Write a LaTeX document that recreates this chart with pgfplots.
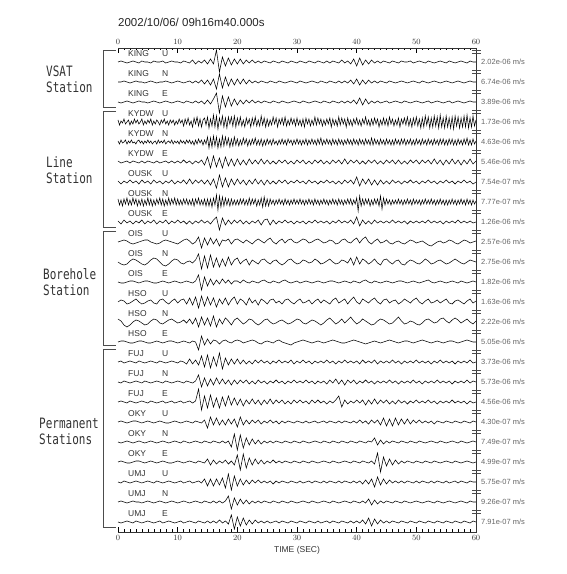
\documentclass[border=0pt]{standalone}
\usepackage{fontspec}
\setmainfont{Liberation Sans}
\newfontfamily\grp{DejaVu Sans Mono}
\usepackage{graphicx}
\usepackage{pgfplots}
\pgfplotsset{compat=1.18}
\definecolor{lab}{HTML}{333333}
\definecolor{scl}{HTML}{666666}
\newcommand\tr[3][0.5]{\addplot[black,line width=0.55pt,mark=none] table[header=false,row sep=\\,x expr=\coordindex*#1,y expr=\thisrowno{0}/20+#2]{#3};}
\begin{document}
\begin{tikzpicture}[x=1pt,y=1pt]
\useasboundingbox (0,0) rectangle (566,574);
\begin{axis}[at={(118pt,42pt)}, anchor=south west, scale only axis, width=358pt, height=484pt,
  xmin=0, xmax=60, ymin=0.5, ymax=24.7, xtick={0,10,...,60}, minor x tick num=9,
  xtick pos=both, xticklabel pos=left, tick align=inside, major tick length=5pt, minor tick length=2.5pt,
  ytick=\empty, axis line style={draw=none}, tick style={black, line width=0.4pt},
  ticklabel style={font=\fontsize{8.5}{9}\selectfont, text=lab}, clip=false]
\tr{24}{
0\\1\\0\\-1\\0\\1\\0\\-1\\1\\0\\
0\\-1\\1\\0\\0\\1\\-1\\0\\1\\0\\
0\\-1\\1\\0\\-1\\2\\-2\\1\\-1\\2\\
-2\\3\\-2\\12\\-10\\5\\-4\\4\\-3\\3\\
-2\\3\\-2\\2\\-1\\2\\-1\\1\\-1\\1\\
0\\-1\\1\\0\\-1\\1\\0\\-1\\1\\0\\
-1\\1\\0\\-1\\1\\0\\-1\\1\\0\\-1\\
1\\-1\\1\\0\\-1\\2\\-1\\1\\-2\\3\\
-4\\4\\-3\\2\\-2\\2\\-1\\1\\-1\\1\\
0\\-1\\1\\0\\-1\\1\\0\\0\\1\\-1\\
0\\1\\0\\-1\\1\\0\\-1\\0\\1\\0\\
-1\\1\\0\\-1\\0\\1\\0\\-1\\1\\0\\0\\}
\tr{23}{
0\\0\\1\\0\\-1\\0\\1\\0\\0\\-1\\
0\\1\\0\\-1\\0\\0\\1\\0\\-1\\0\\
1\\0\\-1\\0\\1\\-1\\1\\-1\\2\\-2\\
2\\-3\\3\\-7\\8\\-6\\5\\-4\\3\\-3\\
3\\-2\\3\\-2\\2\\-1\\1\\-1\\1\\0\\
-1\\1\\0\\-1\\1\\0\\-1\\0\\1\\0\\
-1\\1\\0\\-1\\0\\1\\0\\-1\\1\\0\\
-1\\1\\0\\-1\\1\\-1\\1\\-1\\2\\-2\\
3\\-3\\2\\-2\\2\\-1\\1\\-1\\1\\0\\
-1\\1\\0\\-1\\0\\1\\0\\-1\\0\\1\\
0\\-1\\1\\0\\-1\\0\\1\\0\\-1\\0\\
1\\0\\-1\\0\\1\\0\\-1\\0\\1\\0\\0\\}
\tr{22}{
0\\-1\\0\\1\\0\\-1\\0\\1\\0\\0\\
-1\\0\\1\\0\\-1\\0\\1\\0\\-1\\0\\
1\\0\\-1\\1\\0\\-1\\1\\-1\\1\\-2\\
2\\-2\\3\\9\\-11\\6\\-5\\5\\-4\\3\\
-3\\2\\-2\\2\\-1\\2\\-1\\1\\-1\\1\\
0\\-1\\1\\0\\-1\\1\\0\\-1\\0\\1\\
0\\-1\\1\\0\\-1\\0\\1\\0\\-1\\1\\
0\\-1\\1\\0\\-1\\1\\-1\\1\\-1\\2\\
-2\\4\\-3\\3\\-2\\1\\-1\\1\\-1\\0\\
1\\-1\\0\\1\\0\\-1\\1\\0\\-1\\0\\
1\\0\\-1\\0\\1\\-1\\0\\1\\0\\-1\\
0\\1\\-1\\0\\1\\0\\-1\\0\\1\\0\\0\\}
\tr[0.25]{21}{
2\\-3\\1\\-1\\3\\-2\\0\\2\\-3\\1\\-2\\3\\-1\\2\\-2\\0\\3\\-3\\1\\-2\\
2\\-1\\3\\-3\\1\\-2\\2\\0\\-3\\2\\-1\\3\\-2\\1\\-3\\2\\-1\\2\\-3\\1\\
-2\\3\\-1\\2\\-4\\3\\-2\\4\\-3\\1\\-5\\4\\-2\\5\\-4\\3\\-5\\2\\4\\-3\\
5\\-6\\3\\-4\\7\\-5\\6\\-7\\4\\-3\\6\\-5\\4\\-6\\5\\-2\\5\\-4\\6\\-5\\
4\\-3\\5\\-4\\2\\-5\\4\\-2\\3\\-5\\4\\-3\\5\\-4\\2\\-4\\6\\-3\\4\\-5\\
3\\-4\\2\\-3\\5\\-2\\4\\-5\\3\\-2\\4\\-3\\5\\-4\\2\\-3\\4\\-2\\3\\-4\\
4\\-3\\2\\-4\\3\\-5\\4\\-2\\3\\-4\\2\\-3\\5\\-3\\4\\-2\\3\\-4\\2\\-3\\
3\\-2\\4\\-5\\3\\-3\\2\\-4\\5\\-3\\4\\-2\\3\\-5\\4\\-3\\2\\-4\\3\\-2\\
4\\-3\\2\\-4\\3\\-2\\5\\-3\\2\\-4\\3\\-3\\4\\-2\\3\\-5\\2\\-3\\4\\-3\\
3\\-4\\5\\-2\\3\\-4\\2\\-3\\4\\-5\\3\\-2\\4\\-3\\5\\-4\\3\\-5\\4\\-3\\
5\\-4\\3\\-6\\4\\-5\\6\\-3\\5\\-6\\4\\-5\\6\\-4\\5\\-6\\7\\-5\\4\\-6\\
6\\-5\\4\\-6\\5\\-7\\6\\-4\\5\\-6\\4\\-5\\6\\-5\\7\\-6\\4\\-5\\6\\-4\\
2\\}
\tr[0.25]{20}{
1\\-2\\2\\-1\\0\\2\\-2\\1\\-1\\2\\-1\\0\\-2\\1\\2\\-1\\1\\-2\\1\\-1\\
2\\-1\\1\\-2\\0\\1\\-2\\2\\-1\\1\\-1\\2\\-2\\0\\1\\-1\\2\\-2\\1\\-1\\
1\\-2\\2\\-1\\1\\-2\\2\\-1\\2\\-2\\1\\-3\\2\\-2\\3\\-1\\2\\-3\\2\\-2\\
5\\-6\\4\\-5\\6\\-4\\5\\-6\\3\\-5\\6\\-4\\5\\-3\\4\\-5\\3\\-4\\5\\-3\\
3\\-4\\2\\-3\\4\\-2\\3\\-4\\2\\-3\\3\\-2\\4\\-3\\2\\-3\\3\\-4\\2\\-3\\
3\\-2\\2\\-3\\3\\-2\\1\\-3\\2\\-2\\3\\-2\\2\\-3\\3\\-1\\2\\-3\\2\\-2\\
3\\-2\\2\\-3\\2\\-2\\3\\-3\\2\\-2\\3\\-2\\2\\-3\\3\\-2\\4\\-3\\2\\-2\\
3\\-2\\2\\-3\\3\\-2\\2\\-3\\3\\-2\\2\\-3\\2\\-2\\3\\-2\\2\\-3\\3\\-2\\
2\\-3\\3\\-2\\2\\-3\\3\\-2\\2\\-3\\4\\-3\\3\\-2\\2\\-3\\3\\-2\\2\\-3\\
3\\-2\\2\\-3\\2\\-3\\3\\-2\\2\\-3\\3\\-2\\3\\-3\\2\\-2\\3\\-3\\2\\-3\\
3\\-2\\2\\-3\\3\\-2\\2\\-3\\3\\-2\\2\\-3\\3\\-2\\2\\-3\\3\\-2\\3\\-3\\
2\\-3\\3\\-2\\3\\-3\\2\\-3\\3\\-2\\2\\-3\\3\\-2\\4\\-3\\2\\-3\\3\\-2\\
1\\}
\tr{19}{
1\\-1\\0\\1\\-1\\1\\0\\-1\\1\\-1\\
1\\0\\-1\\1\\-1\\0\\1\\-1\\1\\-1\\
1\\-1\\2\\-1\\1\\-2\\1\\-1\\2\\-3\\
5\\-6\\6\\-5\\4\\-6\\5\\-4\\3\\-4\\
3\\-3\\2\\-3\\3\\-2\\2\\-2\\3\\-2\\
2\\-2\\1\\-2\\2\\-1\\2\\-2\\1\\-2\\
2\\-1\\2\\-2\\1\\-2\\2\\-1\\2\\-2\\
1\\-2\\2\\-1\\2\\-2\\3\\-2\\2\\-1\\
2\\-2\\1\\-2\\2\\-1\\2\\-2\\1\\-2\\
2\\-1\\2\\-2\\2\\-2\\1\\-2\\2\\-1\\
2\\-2\\2\\-1\\2\\-2\\3\\-2\\2\\-3\\
2\\-2\\3\\-2\\2\\-3\\2\\-2\\3\\-2\\1\\}
\tr{18}{
1\\-2\\1\\-1\\2\\-1\\1\\-2\\2\\-1\\
1\\-2\\2\\-1\\1\\-2\\1\\-1\\2\\-2\\
1\\-1\\2\\-2\\3\\-2\\2\\-1\\2\\-2\\
2\\-3\\3\\-6\\7\\-5\\4\\-5\\3\\-3\\
3\\-2\\2\\-3\\2\\-2\\3\\-2\\2\\-3\\
2\\-2\\1\\-2\\2\\-1\\2\\-2\\1\\-1\\
2\\-1\\1\\-2\\2\\-1\\1\\-2\\1\\-1\\
2\\-1\\1\\-2\\1\\-2\\2\\-1\\2\\-2\\
5\\-4\\3\\-2\\3\\-3\\2\\-3\\2\\-2\\
1\\-2\\2\\-1\\1\\-2\\1\\-1\\2\\-1\\
1\\-2\\1\\-1\\2\\-1\\1\\-2\\1\\-1\\
2\\-1\\1\\-2\\1\\-1\\2\\-1\\1\\-2\\0\\}
\tr[0.25]{17}{
3\\-3\\2\\-4\\3\\-2\\4\\-3\\2\\-3\\4\\-2\\3\\-4\\2\\-3\\3\\-4\\2\\-3\\
4\\-3\\3\\-4\\2\\-3\\3\\-2\\4\\-3\\3\\-4\\2\\-3\\4\\-3\\3\\-2\\4\\-3\\
3\\-3\\2\\-3\\3\\-2\\3\\-3\\2\\-3\\3\\-4\\3\\-2\\4\\-3\\2\\-3\\3\\-4\\
3\\-4\\3\\-5\\4\\-3\\7\\-8\\6\\-5\\5\\-4\\4\\-3\\3\\-4\\3\\-3\\2\\-3\\
2\\-3\\3\\-2\\3\\-3\\2\\-3\\4\\-3\\3\\-2\\3\\-4\\2\\-3\\4\\-5\\5\\-4\\
3\\-4\\3\\-2\\2\\-3\\2\\-2\\3\\-2\\2\\-3\\3\\-2\\2\\-3\\2\\-2\\3\\-2\\
2\\-2\\3\\-2\\2\\-3\\2\\-2\\3\\-2\\2\\-3\\3\\-2\\2\\-3\\2\\-2\\3\\-2\\
2\\-3\\2\\-2\\3\\-2\\2\\-3\\3\\-2\\2\\-3\\2\\-2\\3\\-2\\3\\-3\\2\\-2\\
4\\-9\\6\\-4\\3\\-3\\3\\-2\\3\\-4\\2\\-3\\3\\-2\\3\\-4\\6\\-7\\4\\-3\\
3\\-2\\2\\-3\\2\\-2\\2\\-2\\3\\-2\\2\\-3\\2\\-2\\3\\-2\\2\\-3\\3\\-2\\
2\\-2\\2\\-3\\2\\-2\\3\\-2\\2\\-2\\3\\-2\\2\\-3\\2\\-2\\3\\-2\\2\\-3\\
2\\-3\\2\\-2\\3\\-2\\2\\-3\\2\\-2\\3\\-2\\2\\-3\\3\\-2\\2\\-3\\2\\-2\\
1\\}
\tr{16}{
1\\-2\\2\\-1\\1\\-2\\1\\-1\\2\\-2\\
1\\-1\\2\\-2\\1\\-1\\2\\-2\\1\\-1\\
2\\-1\\1\\-2\\1\\-2\\1\\-1\\2\\-1\\
1\\-2\\2\\5\\-8\\4\\-3\\2\\-2\\2\\
-1\\2\\-2\\1\\-2\\1\\-1\\2\\-3\\2\\
3\\-3\\2\\-2\\1\\-1\\2\\-1\\1\\-2\\
1\\-1\\1\\-2\\1\\-1\\2\\-1\\1\\-1\\
1\\-2\\1\\-1\\2\\-1\\1\\-1\\2\\-2\\
5\\-4\\2\\-2\\1\\-2\\2\\-1\\1\\-1\\
1\\-1\\2\\-1\\1\\-1\\1\\-2\\1\\-1\\
1\\-1\\1\\-1\\2\\-1\\1\\-1\\1\\-2\\
1\\-1\\1\\-1\\2\\-1\\1\\-1\\1\\-1\\0\\}
\tr{15}{
0\\1\\2\\1\\-1\\-2\\-1\\0\\1\\2\\
2\\0\\-1\\-2\\-1\\1\\2\\1\\0\\-1\\
-2\\0\\2\\3\\1\\-2\\0\\5\\-6\\4\\
-3\\4\\-2\\3\\-4\\2\\1\\3\\-2\\2\\
3\\1\\-1\\2\\0\\-2\\1\\3\\1\\-1\\
2\\4\\0\\-2\\1\\3\\-1\\2\\3\\0\\
-1\\1\\3\\2\\-1\\0\\2\\3\\1\\-1\\
0\\2\\1\\-2\\-1\\2\\3\\0\\-1\\2\\
4\\-1\\3\\5\\0\\-2\\1\\3\\-1\\0\\
2\\-1\\-2\\0\\1\\-1\\-2\\0\\2\\1\\
-1\\0\\1\\-1\\-3\\-4\\-2\\0\\1\\-1\\
0\\2\\1\\-1\\-2\\0\\2\\1\\-1\\0\\1\\}
\tr{14}{
0\\-2\\-3\\-2\\1\\3\\2\\0\\-2\\-3\\
-1\\2\\4\\3\\0\\-3\\-4\\-2\\1\\3\\
2\\-1\\-2\\0\\1\\-1\\2\\8\\-7\\6\\
-6\\7\\-5\\4\\-5\\3\\-4\\5\\-3\\2\\
4\\-2\\1\\3\\-3\\2\\0\\-2\\2\\3\\
0\\-2\\1\\2\\-1\\-3\\-1\\2\\3\\0\\
-2\\-1\\2\\1\\-1\\0\\3\\1\\-2\\-1\\
1\\3\\0\\-2\\-1\\2\\1\\-1\\4\\-3\\
5\\-2\\3\\1\\-2\\0\\3\\-1\\-3\\2\\
3\\0\\-2\\1\\2\\-2\\-3\\0\\2\\1\\
-1\\-2\\0\\3\\1\\-2\\-1\\1\\2\\0\\
-2\\-1\\1\\3\\1\\-1\\-2\\0\\2\\1\\0\\}
\tr{13}{
0\\-1\\-1\\0\\1\\1\\0\\-1\\0\\1\\
1\\0\\-1\\-1\\0\\1\\0\\-1\\0\\1\\
0\\-1\\0\\1\\0\\-1\\1\\7\\-8\\5\\
-4\\3\\-3\\2\\-2\\3\\-1\\2\\-2\\1\\
1\\-1\\2\\0\\-1\\1\\0\\-1\\1\\2\\
0\\-1\\1\\0\\-1\\1\\2\\0\\-1\\0\\
1\\-1\\0\\1\\0\\-1\\0\\1\\0\\-1\\
0\\1\\1\\0\\-1\\0\\1\\0\\-1\\1\\
0\\-1\\1\\2\\0\\-1\\1\\0\\-1\\0\\
1\\0\\-1\\0\\1\\1\\0\\-1\\0\\1\\
0\\-1\\0\\1\\2\\0\\-1\\0\\1\\0\\
-1\\0\\1\\0\\-1\\1\\0\\-1\\0\\1\\0\\}
\tr{12}{
0\\2\\1\\-2\\-1\\1\\3\\0\\-2\\-1\\
1\\2\\-1\\-2\\2\\3\\0\\-2\\1\\3\\
-1\\2\\3\\-2\\4\\-3\\5\\-6\\6\\-4\\
5\\-3\\4\\-5\\3\\-2\\4\\-3\\2\\5\\
-2\\3\\1\\-3\\4\\-1\\2\\-3\\3\\1\\
-2\\2\\3\\-1\\1\\-2\\2\\3\\0\\-2\\
1\\3\\-1\\0\\2\\-2\\1\\3\\-1\\2\\
0\\-2\\2\\4\\-1\\1\\3\\-2\\2\\5\\
0\\-2\\3\\1\\-1\\2\\4\\0\\-2\\2\\
3\\-1\\1\\2\\-2\\0\\3\\1\\-1\\2\\
4\\0\\-2\\1\\3\\-1\\0\\2\\-1\\1\\
3\\-1\\-2\\1\\2\\0\\-2\\1\\3\\-1\\1\\}
\tr{11}{
3\\1\\-3\\-5\\-3\\0\\2\\1\\-1\\-3\\
-2\\1\\3\\2\\-1\\-2\\0\\2\\3\\1\\
-1\\0\\2\\-1\\3\\-2\\4\\-5\\5\\-3\\
4\\-4\\6\\-5\\3\\-2\\4\\1\\-3\\2\\
4\\1\\-2\\0\\3\\2\\-1\\-3\\-1\\2\\
3\\0\\-2\\-1\\1\\2\\0\\-2\\-1\\1\\
3\\2\\-1\\-2\\0\\2\\1\\-1\\-3\\-1\\
2\\4\\1\\-2\\0\\3\\-1\\2\\5\\1\\
-2\\0\\3\\1\\-1\\-3\\-2\\1\\3\\2\\
0\\-2\\-1\\2\\5\\1\\-2\\-1\\1\\0\\
-2\\-3\\-1\\2\\3\\1\\-1\\0\\3\\4\\
1\\-1\\2\\4\\2\\-1\\1\\3\\0\\-2\\1\\}
\tr{10}{
0\\1\\1\\0\\-1\\-1\\0\\1\\1\\0\\
-1\\-1\\0\\1\\0\\-1\\0\\1\\1\\0\\
-1\\0\\1\\0\\-1\\1\\0\\-8\\6\\-3\\
3\\-2\\2\\1\\-2\\1\\2\\0\\-1\\1\\
2\\1\\-1\\0\\1\\2\\1\\-1\\-2\\0\\
1\\0\\-1\\1\\2\\0\\-1\\-2\\-3\\-1\\
0\\1\\2\\1\\0\\-1\\0\\1\\0\\-1\\
0\\1\\2\\1\\0\\-1\\-1\\0\\1\\2\\
1\\0\\-1\\-2\\-1\\0\\1\\0\\-1\\0\\
1\\2\\1\\0\\-1\\0\\1\\1\\0\\-1\\
0\\1\\2\\1\\0\\-1\\0\\1\\0\\-1\\
0\\1\\1\\0\\-1\\0\\1\\2\\1\\0\\0\\}
\tr{9}{
0\\1\\-1\\0\\1\\0\\-1\\1\\0\\-1\\
0\\1\\0\\-1\\1\\0\\-1\\0\\1\\0\\
-1\\1\\0\\-2\\3\\-2\\2\\-3\\6\\-5\\
7\\-6\\5\\-4\\9\\-7\\4\\-3\\3\\-2\\
3\\-2\\2\\-2\\1\\-2\\2\\-1\\2\\-1\\
1\\-2\\1\\-1\\2\\-1\\1\\-1\\2\\-2\\
1\\-1\\2\\-1\\1\\-2\\1\\-1\\1\\-1\\
2\\-1\\1\\-2\\1\\-1\\2\\-1\\1\\-1\\
1\\-2\\2\\-1\\1\\-1\\2\\-2\\1\\-1\\
1\\-1\\2\\-1\\1\\-2\\1\\-1\\1\\-1\\
2\\-1\\1\\-1\\1\\-2\\1\\-1\\2\\-1\\
1\\-1\\1\\-2\\1\\-1\\1\\-1\\2\\-1\\0\\}
\tr{8}{
0\\-1\\1\\0\\-1\\0\\1\\0\\-1\\1\\
0\\-1\\0\\1\\0\\-1\\1\\0\\-1\\0\\
1\\0\\-1\\1\\0\\-1\\1\\7\\-5\\4\\
-4\\3\\-3\\4\\-2\\3\\-2\\2\\-3\\2\\
-2\\2\\-1\\2\\-2\\1\\-2\\2\\-1\\1\\
-2\\1\\-1\\2\\-1\\1\\-2\\1\\-1\\2\\
-1\\1\\-1\\2\\-1\\1\\-2\\1\\-1\\1\\
-2\\2\\-1\\3\\-2\\2\\-3\\2\\-1\\2\\
-2\\1\\-1\\2\\-1\\1\\-2\\1\\-1\\1\\
-1\\2\\-1\\1\\-2\\1\\-1\\1\\-1\\2\\
-1\\1\\-2\\1\\-1\\1\\-1\\2\\-1\\1\\
-1\\1\\-2\\1\\-1\\1\\-1\\2\\-1\\1\\0\\}
\tr{7}{
0\\1\\0\\-1\\1\\0\\-1\\0\\1\\0\\
-1\\1\\0\\-1\\0\\1\\-1\\0\\1\\-1\\
0\\1\\-1\\0\\1\\-1\\1\\13\\-8\\6\\
-6\\7\\-5\\4\\-6\\5\\-4\\6\\-3\\4\\
-3\\3\\-4\\2\\-2\\3\\-2\\2\\-3\\2\\
-2\\3\\-2\\2\\-1\\2\\-2\\1\\-2\\2\\
-1\\2\\-1\\1\\-2\\2\\-1\\2\\-1\\1\\
-2\\1\\-1\\2\\6\\-5\\2\\-2\\1\\-1\\
2\\-1\\2\\-3\\2\\-2\\3\\-2\\2\\-1\\
2\\-2\\1\\-2\\2\\-1\\1\\-2\\1\\-1\\
2\\-1\\1\\-1\\2\\-1\\1\\-2\\1\\-1\\
1\\-1\\2\\-1\\1\\-1\\1\\-2\\1\\-1\\0\\}
\tr{6}{
0\\1\\0\\-1\\0\\1\\1\\0\\-1\\0\\
1\\0\\-1\\0\\1\\0\\-1\\-1\\0\\1\\
0\\-1\\0\\1\\0\\-1\\1\\0\\-1\\2\\
-6\\5\\-3\\4\\-3\\2\\-3\\3\\-2\\3\\
-5\\5\\-3\\2\\-2\\2\\-1\\2\\-2\\1\\
-1\\2\\-1\\1\\-2\\1\\-1\\1\\0\\-1\\
1\\0\\-1\\1\\-1\\0\\1\\-1\\0\\1\\
-1\\1\\0\\-1\\1\\-1\\1\\0\\-1\\1\\
-1\\2\\-1\\1\\-2\\2\\-1\\2\\-3\\4\\
-4\\3\\-4\\4\\-3\\3\\-2\\3\\-2\\2\\
-1\\2\\-1\\1\\-1\\1\\-2\\1\\0\\-1\\
1\\0\\-1\\1\\0\\-1\\1\\0\\-1\\1\\0\\}
\tr{5}{
0\\-1\\0\\1\\0\\-1\\0\\1\\0\\-1\\
0\\1\\0\\-1\\0\\1\\0\\-1\\0\\1\\
0\\-1\\1\\0\\-1\\0\\1\\0\\-1\\1\\
0\\-1\\1\\0\\-1\\1\\-1\\1\\-5\\8\\
-8\\7\\-6\\4\\-3\\3\\-2\\2\\-2\\1\\
-1\\1\\-1\\1\\0\\-1\\1\\0\\-1\\1\\
0\\-1\\1\\0\\-1\\0\\1\\0\\-1\\1\\
0\\-1\\1\\0\\-1\\1\\0\\-1\\1\\0\\
-1\\1\\0\\-1\\1\\0\\4\\-3\\2\\-2\\
1\\-1\\1\\0\\-1\\1\\0\\-1\\1\\0\\
-1\\1\\0\\-1\\0\\1\\0\\-1\\1\\0\\
-1\\0\\1\\0\\-1\\1\\0\\-1\\0\\1\\0\\}
\tr{4}{
0\\1\\0\\-1\\-1\\0\\1\\1\\0\\-1\\
0\\1\\0\\-1\\0\\1\\0\\-1\\-1\\0\\
1\\0\\-1\\0\\1\\0\\-1\\1\\0\\-1\\
3\\-3\\2\\-2\\1\\-1\\2\\-2\\1\\-3\\
7\\-8\\8\\-6\\4\\-3\\3\\-2\\2\\-2\\
1\\-1\\2\\-1\\1\\-1\\1\\0\\-1\\1\\
0\\-1\\1\\0\\-1\\1\\0\\-1\\0\\1\\
0\\-1\\1\\0\\-1\\0\\1\\0\\-1\\1\\
0\\-1\\1\\0\\-1\\1\\-2\\9\\-10\\5\\
-4\\3\\-3\\2\\-2\\1\\-1\\1\\0\\-1\\
1\\0\\-1\\1\\0\\-1\\1\\0\\-1\\0\\
1\\0\\-1\\1\\0\\-1\\0\\1\\0\\-1\\0\\}
\tr{3}{
0\\-1\\1\\0\\-1\\0\\1\\0\\-1\\0\\
1\\0\\-1\\1\\0\\-1\\0\\1\\0\\-1\\
0\\1\\-1\\0\\1\\-1\\0\\1\\-1\\3\\
-4\\3\\-4\\3\\-3\\4\\-6\\8\\-8\\6\\
-4\\3\\-3\\2\\-2\\2\\-1\\2\\-1\\1\\
-1\\1\\-2\\1\\-1\\1\\0\\-1\\1\\0\\
-1\\1\\-1\\0\\1\\-1\\1\\0\\-1\\1\\
-1\\1\\0\\-1\\1\\-1\\1\\0\\-1\\1\\
-1\\1\\-2\\2\\-2\\3\\-5\\5\\-3\\3\\
-2\\2\\-1\\1\\-1\\1\\-1\\1\\0\\-1\\
1\\-1\\1\\0\\-1\\1\\-1\\1\\0\\-1\\
1\\-1\\0\\1\\-1\\1\\0\\-1\\1\\0\\0\\}
\tr{2}{
0\\1\\0\\-1\\0\\1\\0\\0\\-1\\0\\
1\\0\\-1\\0\\1\\0\\-1\\0\\1\\0\\
-1\\0\\1\\0\\-1\\0\\1\\0\\-1\\1\\
0\\-1\\1\\-1\\1\\-1\\1\\6\\-7\\4\\
-3\\3\\-2\\2\\-2\\1\\-1\\1\\-1\\1\\
0\\-1\\1\\0\\-1\\1\\0\\-1\\1\\0\\
-1\\0\\1\\0\\-1\\1\\0\\-1\\0\\1\\
0\\-1\\1\\0\\-1\\0\\1\\0\\-1\\1\\
0\\-1\\1\\-1\\3\\-3\\2\\-2\\1\\-1\\
1\\0\\-1\\1\\0\\-1\\1\\0\\-1\\0\\
1\\0\\-1\\0\\1\\0\\-1\\1\\0\\-1\\
0\\1\\0\\-1\\0\\1\\0\\-1\\1\\0\\0\\}
\tr{1}{
0\\-1\\0\\1\\0\\-1\\1\\0\\-1\\0\\
1\\0\\-1\\0\\1\\-1\\0\\1\\0\\-1\\
0\\1\\-1\\0\\1\\0\\-1\\1\\0\\-1\\
1\\-1\\1\\-1\\2\\-1\\1\\-2\\7\\-7\\
5\\-4\\4\\-3\\2\\-2\\2\\-1\\1\\-1\\
1\\-1\\0\\1\\-1\\1\\0\\-1\\1\\0\\
-1\\1\\0\\-1\\1\\0\\-1\\1\\-1\\0\\
1\\-1\\1\\0\\-1\\1\\0\\-1\\1\\-1\\
1\\-1\\2\\-2\\4\\-4\\3\\-2\\2\\-1\\
1\\-1\\1\\0\\-1\\1\\0\\-1\\1\\0\\
-1\\1\\0\\-1\\1\\0\\-1\\1\\0\\-1\\
1\\0\\-1\\1\\0\\-1\\1\\0\\-1\\1\\0\\}
\end{axis}
\begin{axis}[at={(118pt,42pt)}, anchor=south west, scale only axis, width=358pt, height=484pt,
  xmin=0, xmax=60, ymin=0, ymax=1, xtick={0,10,...,60}, xtick pos=right, xticklabel pos=right,
  major tick length=0pt, ytick=\empty, axis line style={draw=none},
  ticklabel style={font=\fontsize{8.5}{9}\selectfont, text=lab}]
\end{axis}
% frame: top, right, bottom
\draw[line width=0.5pt, black!80] (118,526) -- (476,526) -- (476,42) -- (118,42);
% scale marks on the right
\foreach \j in {0,...,23} {
  \draw[line width=0.4pt, black!70] (472,{522-20*\j+1.5}) -- (481,{522-20*\j+1.5});
  \draw[line width=0.4pt, black!70] (472,{522-20*\j-1.5}) -- (481,{522-20*\j-1.5});
}
% group brackets
\begin{scope}[line width=0.5pt, black!70]
\draw (116,524) -- (103,524) -- (103,467) -- (116,467);
\draw (116,463) -- (103,463) -- (103,347) -- (116,347);
\draw (116,343) -- (103,343) -- (103,229) -- (116,229);
\draw (116,225) -- (103,225) -- (103,47) -- (116,47);
\end{scope}
% group labels
\begin{scope}[every node/.style={anchor=west, inner sep=0pt, font=\grp\fontsize{11}{12}\selectfont, text=lab}]
\node at (46,503) {\scalebox{1}[1.3]{VSAT}};
\node at (46,487) {\scalebox{1}[1.3]{Station}};
\node at (46,412) {\scalebox{1}[1.3]{Line}};
\node at (46,396) {\scalebox{1}[1.3]{Station}};
\node at (43,300) {\scalebox{1}[1.3]{Borehole}};
\node at (43,284) {\scalebox{1}[1.3]{Station}};
\node at (39,151) {\scalebox{1}[1.3]{Permanent}};
\node at (39,135) {\scalebox{1}[1.3]{Stations}};
\end{scope}
% trace labels
\begin{scope}[every node/.style={anchor=west, inner sep=0pt, font=\fontsize{8.5}{9}\selectfont, text=lab}]
\foreach \n/\c [count=\k from 0] in {KING/U,KING/N,KING/E,KYDW/U,KYDW/N,KYDW/E,OUSK/U,OUSK/N,OUSK/E,OIS/U,OIS/N,OIS/E,HSO/U,HSO/N,HSO/E,FUJ/U,FUJ/N,FUJ/E,OKY/U,OKY/N,OKY/E,UMJ/U,UMJ/N,UMJ/E} {
  \node at (128,{520-20*\k}) {\n};
  \node at (162,{520-20*\k}) {\c};
}
\end{scope}
% scale labels
\begin{scope}[every node/.style={anchor=west, inner sep=0pt, font=\fontsize{7.5}{8}\selectfont, text=scl}]
\foreach \s [count=\k from 0] in {2.02e-06,6.74e-06,3.89e-06,1.73e-06,4.63e-06,5.46e-06,7.54e-07,7.77e-07,1.26e-06,2.57e-06,2.75e-06,1.82e-06,1.63e-06,2.22e-06,5.05e-06,3.73e-06,5.73e-06,4.56e-06,4.30e-07,7.49e-07,4.99e-07,5.75e-07,9.26e-07,7.91e-07} {
  \node at (481,{512-20*\k}) {\s\ m/s};
}
\end{scope}
\node[anchor=west, inner sep=0pt, font=\fontsize{11.5}{12}\selectfont, text=black!85] at (118,552) {2002/10/06/ 09h16m40.000s};
\node[inner sep=0pt, font=\fontsize{8.5}{9}\selectfont, text=lab] at (297,24) {TIME (SEC)};
\end{tikzpicture}
\end{document}
